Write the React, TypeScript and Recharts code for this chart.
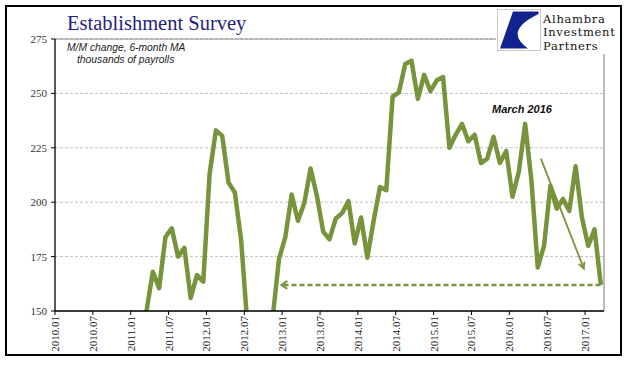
import { LineChart, Line, XAxis, YAxis, CartesianGrid, ReferenceLine, ReferenceDot } from 'recharts';

const OLIVE = '#77933C';
const NAVY = '#1f1f80';

// monthly series, first value is for FIRST_MONTH (values under 150 are clipped by the axis)
const FIRST_MONTH = '2011.02';
const PAYROLL_MA = [
    138, 150, 168, 160.5, 184, 188, 175, 179, 156, 166.5, 163.5,
    213, 233, 230.5, 209, 204.5, 182.5, 143, 132, 128, 136, 147, 174,
    184, 203.5, 191.5, 199.5, 215.5, 203, 186.5, 183, 192.5, 195, 200.5, 181,
    193, 174.5, 191.5, 207, 205.5, 248.5, 250.5, 263.5, 265, 247.5, 258.5, 251,
    256, 257.5, 225, 231, 236, 228, 231, 218, 220, 230, 218, 223.5,
    202.5, 214, 236, 210, 170, 180, 207.5, 197, 201.5, 196, 216.5, 193,
    180, 187.5, 162,
];

const X_LABELS = [
    '2010.01', '2010.07', '2011.01', '2011.07', '2012.01', '2012.07', '2013.01', '2013.07',
    '2014.01', '2014.07', '2015.01', '2015.07', '2016.01', '2016.07', '2017.01',
];
const Y_TICKS = [150, 175, 200, 225, 250, 275];

// annotations, x in months since 2010.01
const FLOOR_ARROW = { from: 35.9, to: 86.5, level: 162 };
const TREND_ARROW = [{ x: 77.0, y: 220 }, { x: 83.8, y: 169.5 }];
const NOTE = { text: 'March 2016', x: 74.0, y: 242.8 };
const LOGO_LINES = ['Alhambra', 'Investment', 'Partners'];

function monthPos(label: string) {
    const [yr, mo] = label.split('.').map(Number);
    return (yr - 2010) * 12 + (mo - 1);
}

const start = monthPos(FIRST_MONTH);
const data = PAYROLL_MA.map((v, i) => ({ pos: start + i + 0.5, value: v }));
const xTicks = X_LABELS.map(monthPos);

function XTick({ x, y, payload }: any) {
    const label = X_LABELS[xTicks.indexOf(payload.value)];
    return (
        <text x={x} y={y} transform={`rotate(-90 ${x} ${y})`} textAnchor="end" dominantBaseline="central"
            fontFamily="Liberation Serif" fontSize={11} fill="#222">
            {label}
        </text>
    );
}

function chevron(x: number, y: number, angle: number, len: number, spread: number) {
    const a1 = angle + Math.PI - spread;
    const a2 = angle + Math.PI + spread;
    return `M${x + len * Math.cos(a1)},${y + len * Math.sin(a1)} L${x},${y} L${x + len * Math.cos(a2)},${y + len * Math.sin(a2)}`;
}

function FloorArrow(p: any) {
    // arrow head sits on the left end
    return (
        <g>
            <line x1={p.x1 + 2} y1={p.y1} x2={p.x2} y2={p.y2} stroke={OLIVE} strokeWidth={2.5} strokeDasharray="5 3" />
            <path d={chevron(p.x1, p.y1, Math.PI, 7, 0.6)} fill="none" stroke={OLIVE} strokeWidth={2} />
        </g>
    );
}

function TrendArrow(p: any) {
    const ang = Math.atan2(p.y2 - p.y1, p.x2 - p.x1);
    return (
        <g>
            <line x1={p.x1} y1={p.y1} x2={p.x2} y2={p.y2} stroke={OLIVE} strokeWidth={1.8} />
            <path d={chevron(p.x2, p.y2, ang, 7, 0.45)} fill="none" stroke={OLIVE} strokeWidth={1.8} />
        </g>
    );
}

function NoteText(p: any) {
    return (
        <text x={p.cx} y={p.cy} textAnchor="middle" dominantBaseline="central" fontFamily="Liberation Sans"
            fontSize={11} fontStyle="italic" fontWeight="bold" fill="#111">
            {NOTE.text}
        </text>
    );
}

export default function App() {
    return (
        <div style={{ position: 'absolute', left: 0, top: 0, width: 641, height: 375, background: '#fff' }}>
            <LineChart width={641} height={375} data={data} margin={{ top: 39, right: 37, bottom: 14, left: 0 }}>
                <CartesianGrid vertical={false} stroke="#bfbfbf" strokeDasharray="3 2" />
                <XAxis dataKey="pos" type="number" domain={[0, 87]} ticks={xTicks} interval={0} allowDataOverflow
                    height={50} tickSize={4} tickMargin={1} tick={<XTick />}
                    axisLine={{ stroke: '#000', strokeWidth: 1.3 }} tickLine={{ stroke: '#000' }} />
                <YAxis type="number" domain={[150, 275]} ticks={Y_TICKS} allowDataOverflow width={55}
                    tickSize={4} tickMargin={4}
                    tick={{ fill: '#333', fontFamily: 'Liberation Serif', fontSize: 11 }}
                    axisLine={{ stroke: '#000', strokeWidth: 1.3 }} tickLine={{ stroke: '#000' }} />
                <ReferenceLine y={275} stroke="#8c8c8c" strokeWidth={1.2} />
                <ReferenceLine x={87} stroke="#8c8c8c" strokeWidth={1.2} />
                <ReferenceLine segment={[{ x: FLOOR_ARROW.from, y: FLOOR_ARROW.level }, { x: FLOOR_ARROW.to, y: FLOOR_ARROW.level }]}
                    shape={FloorArrow} />
                <Line type="linear" dataKey="value" stroke={OLIVE} strokeWidth={4.5} dot={false}
                    strokeLinejoin="round" isAnimationActive={false} />
                <ReferenceLine segment={TREND_ARROW} shape={TrendArrow} />
                <ReferenceDot x={NOTE.x} y={NOTE.y} r={0} shape={NoteText} />
            </LineChart>

            <div style={{ position: 'absolute', left: 67, top: 13, fontFamily: 'Liberation Serif', fontSize: 20.5,
                lineHeight: '20px', color: NAVY, whiteSpace: 'nowrap' }}>
                Establishment Survey
            </div>
            <div style={{ position: 'absolute', left: 67, top: 42, fontFamily: 'Liberation Sans', fontStyle: 'italic',
                fontSize: 10.3, lineHeight: '12px', color: '#1a1a1a', whiteSpace: 'nowrap' }}>
                M/M change, 6-month MA
            </div>
            <div style={{ position: 'absolute', left: 77, top: 53.5, fontFamily: 'Liberation Sans', fontStyle: 'italic',
                fontSize: 10.3, lineHeight: '12px', color: '#1a1a1a', whiteSpace: 'nowrap' }}>
                thousands of payrolls
            </div>

            {/* logo block */}
            <div style={{ position: 'absolute', left: 496, top: 7, width: 124, height: 47, background: '#fff' }}>
                <svg width={45} height={44} style={{ position: 'absolute', left: 1, top: 2 }}>
                    <rect x={0.5} y={0.5} width={43} height={41} fill="#fff" stroke="#c8c8c8" />
                    <path d="M16,2.5 L41.5,2.5 L41.5,5 Q6,22 31,39.5 L3,39.5 Z" fill="#12238f" />
                </svg>
                {LOGO_LINES.map((t, i) => (
                    <div key={t} style={{ position: 'absolute', left: 47, top: 6 + i * 13.4, height: 13.4,
                        fontFamily: 'DejaVu Serif', fontSize: 11.5, lineHeight: '13.4px', letterSpacing: 0.7,
                        color: '#111', whiteSpace: 'nowrap' }}>
                        {t}
                    </div>
                ))}
            </div>

            <div style={{ position: 'absolute', left: 5, top: 5, width: 617, height: 351, border: '2px solid #000',
                boxSizing: 'border-box', pointerEvents: 'none' }} />
        </div>
    );
}
